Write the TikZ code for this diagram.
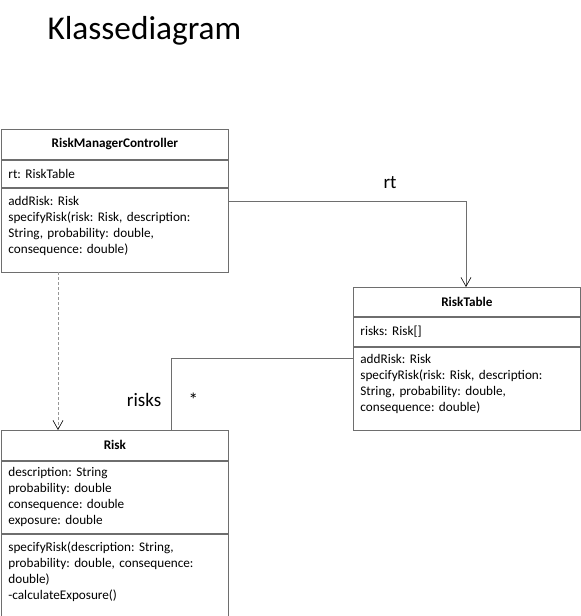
\documentclass[tikz,border=0pt]{standalone}
\usepackage{fontspec}
\setmainfont{Carlito}
\usetikzlibrary{positioning,arrows.meta}
\frenchspacing
\definecolor{line1}{RGB}{110,110,110}
\definecolor{dash1}{RGB}{150,150,150}
\tikzstyle{part} = [draw=line1, line width=0.8pt, rectangle, minimum width=227pt, text width=213pt, inner xsep=7pt, inner ysep=0pt, align=left, font=\fontsize{13.2}{16}\selectfont]
\tikzstyle{head} = [part, align=center, font=\fontsize{13.2}{16}\selectfont\bfseries]
\tikzstyle{arrow} = [draw=line1, line width=0.8pt, -{Straight Barb[length=9pt, width=10pt, line width=0.6pt, black]}]
\tikzstyle{label} = [font=\fontsize{19}{22}\selectfont]

\begin{document}
\begin{tikzpicture}[node distance=0pt]
	\useasboundingbox (0,0) rectangle (581pt,-616pt);
	\node [anchor=west, font=\fontsize{33.3}{40}\selectfont] (title) at (44pt,-31pt) {Klassediagram};

	% RiskManagerController
	\node [head, anchor=north west, minimum height=30pt] (rmc-head) at (1pt,-129pt) {RiskManagerController};
	\node [part, below=of rmc-head, minimum height=27pt] (rmc-attr) {rt: RiskTable};
	\node [part, below=of rmc-attr, minimum height=84pt, text depth=59pt] (rmc-ops) {addRisk: Risk\\specifyRisk(risk: Risk, description:\\String, probability: double,\\consequence: double)};

	% RiskTable
	\node [head, anchor=north west, minimum height=29pt] (rt-head) at (353pt,-287pt) {RiskTable};
	\node [part, below=of rt-head, minimum height=29pt] (rt-attr) {risks: Risk[]};
	\node [part, below=of rt-attr, minimum height=83pt, text depth=59pt] (rt-ops) {addRisk: Risk\\specifyRisk(risk: Risk, description:\\String, probability: double,\\consequence: double)};

	% Risk
	\node [head, anchor=north west, minimum height=30pt] (risk-head) at (1pt,-430pt) {Risk};
	\node [part, below=of risk-head, minimum height=72pt] (risk-attr) {description: String\\probability: double\\consequence: double\\exposure: double};
	\node [part, below=of risk-attr, minimum height=82pt, text depth=57pt] (risk-ops) {specifyRisk(description: String,\\probability: double, consequence:\\double)\\-calculateExposure()};

	\draw [arrow] ([yshift=-14pt]rmc-ops.north east) -| ([xshift=113pt]rt-head.north west) node[label, above=9pt, pos=0.34] {rt};
	\draw [arrow, draw=dash1, line width=0.6pt, dash pattern=on 3pt off 2pt] ([xshift=57pt]rmc-ops.south west) to ([xshift=57pt]risk-head.north west);
	\draw [draw=line1, line width=0.8pt] ([yshift=-12pt]rt-ops.north west) -| ([xshift=170pt]risk-head.north west) node[label, left=6pt, pos=0.79] {risks} node[label, right=14pt, pos=0.79] {*};
\end{tikzpicture}
\end{document}
